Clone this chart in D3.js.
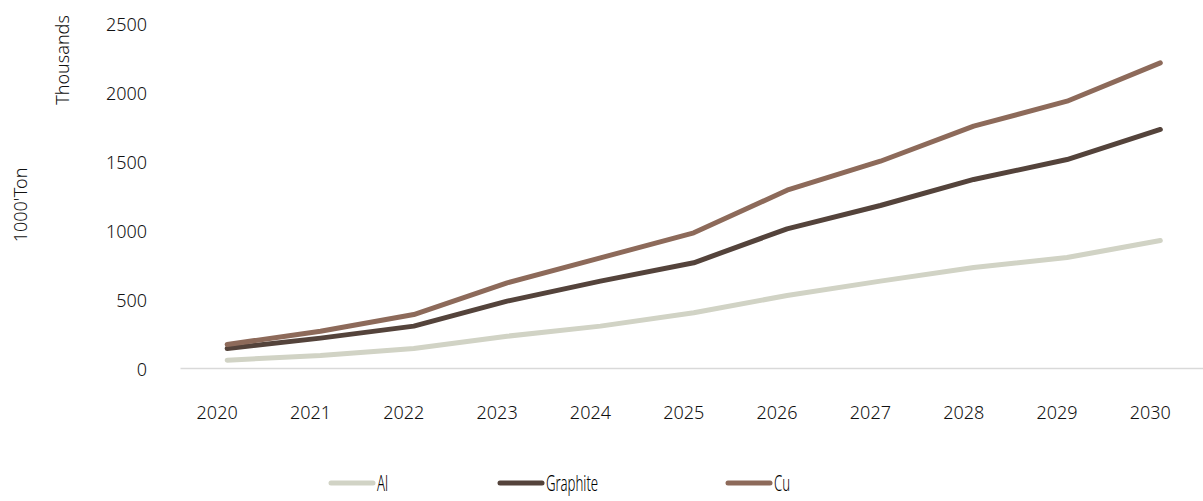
<!DOCTYPE html>
<html>
<head>
<meta charset="utf-8">
<script src="https://cdn.jsdelivr.net/npm/d3@7"></script>
<style>
  html, body { margin: 0; padding: 0; background: #fff; }
  svg { display: block; }
</style>
</head>
<body>
<script>
// Demand outlook by material, 1000 tons (axis shown in thousands)
const years = ["2020", "2021", "2022", "2023", "2024", "2025", "2026", "2027", "2028", "2029", "2030"];
const alValues = [60, 94, 145, 234, 307, 404, 529, 633, 732, 804, 927];
const graphiteValues = [145, 220, 307, 488, 633, 766, 1012, 1181, 1370, 1514, 1732];
const cuValues = [174, 270, 391, 621, 802, 983, 1292, 1502, 1756, 1937, 2215];
const yTicks = [0, 500, 1000, 1500, 2000, 2500];
const seriesNames = ["Al", "Graphite", "Cu"];
const seriesColors = ["#d1d3c5", "#54433b", "#8d6a5a"];

const series = [
  { name: seriesNames[0], values: alValues, color: seriesColors[0] },
  { name: seriesNames[1], values: graphiteValues, color: seriesColors[1] },
  { name: seriesNames[2], values: cuValues, color: seriesColors[2] }
];

const W = 1203, H = 501;
const svg = d3.select("body").append("svg").attr("width", W).attr("height", H);

const x = d3.scaleBand().domain(years).range([180.5, 1207]);
const y = d3.scaleLinear().domain([0, 2500]).range([368.5, 23.5]);
const cx = d => x(d) + x.bandwidth() / 2;

const font = "'Noto Sans', 'DejaVu Sans', sans-serif";
const weight = 300;
const ink = "#111";

// baseline
svg.append("line")
  .attr("x1", 180.5).attr("x2", W)
  .attr("y1", y(0)).attr("y2", y(0))
  .attr("stroke", "#d9d9d9").attr("stroke-width", 1.5);

// y axis labels
const yAxis = d3.axisLeft(y).tickValues(yTicks).tickSize(0).tickPadding(0).tickFormat(d3.format("d"));
const yg = svg.append("g").attr("transform", "translate(147,1)").call(yAxis);
yg.select(".domain").remove();
yg.selectAll("text").attr("font-family", font).attr("font-weight", weight).attr("font-size", 18).attr("fill", ink);

// x axis labels
const xAxis = d3.axisBottom(x).tickSize(0).tickPadding(0);
const xg = svg.append("g").attr("transform", "translate(-10,406)").call(xAxis);
xg.select(".domain").remove();
xg.selectAll("text").attr("font-family", font).attr("font-weight", weight).attr("font-size", 18).attr("fill", ink);

// axis titles
svg.append("text")
  .attr("transform", "translate(69,60) rotate(-90)")
  .attr("text-anchor", "middle")
  .attr("font-family", font).attr("font-weight", weight).attr("font-size", 18).attr("fill", ink)
  .text("Thousands");
svg.append("text")
  .attr("transform", "translate(27,205) rotate(-90)")
  .attr("text-anchor", "middle")
  .attr("font-family", font).attr("font-weight", weight).attr("font-size", 18).attr("fill", ink)
  .text("1000'Ton");

// lines
const line = d3.line().x((d, i) => cx(years[i])).y(d => y(d));
svg.selectAll("path.series")
  .data(series)
  .join("path")
  .attr("class", "series")
  .attr("d", d => line(d.values))
  .attr("fill", "none")
  .attr("stroke", d => d.color)
  .attr("stroke-width", 5)
  .attr("stroke-linecap", "round")
  .attr("stroke-linejoin", "round");

// legend (narrow lettering)
const legendX = [331, 500, 728];
const lg = svg.selectAll("g.legend")
  .data(series)
  .join("g")
  .attr("class", "legend")
  .attr("transform", (d, i) => `translate(${legendX[i]},483)`);
lg.append("line")
  .attr("x1", 0).attr("x2", 42).attr("y1", 0).attr("y2", 0)
  .attr("stroke", d => d.color).attr("stroke-width", 5).attr("stroke-linecap", "round");
lg.append("text")
  .attr("transform", "translate(46,0) scale(0.6,1)")
  .attr("dy", "0.36em")
  .attr("font-family", font)
  .attr("font-weight", weight)
  .attr("font-size", 22)
  .attr("fill", "#000")
  .text(d => d.name);
</script>
</body>
</html>
